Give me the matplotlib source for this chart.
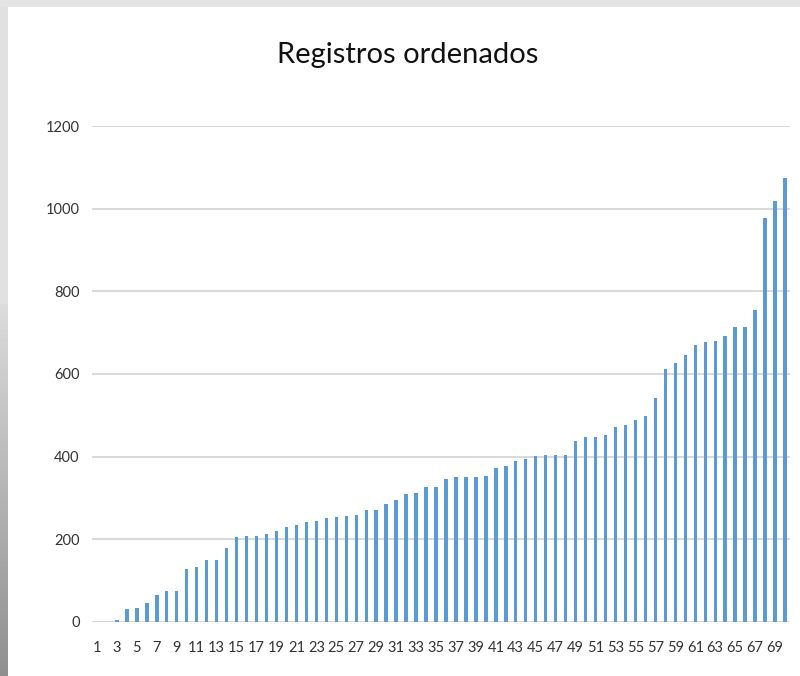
import numpy as np
import matplotlib.pyplot as plt
from matplotlib.patches import Rectangle

# datos (registros ordenados, 70 barras)
registros = list(range(1, 71))
valores = [0, 0, 6, 32, 35, 47, 66, 74, 74, 127,
           133, 151, 151, 180, 206, 209, 209, 213, 219, 230,
           235, 242, 245, 251, 254, 256, 259, 272, 272, 285,
           296, 310, 312, 326, 326, 347, 350, 350, 350, 354,
           373, 378, 390, 394, 401, 403, 403, 403, 439, 447,
           448, 453, 472, 477, 489, 498, 541, 613, 626, 647,
           670, 678, 680, 693, 713, 713, 755, 977, 1019, 1075]
etiquetas_x = [str(n) for n in registros if n % 2 == 1]
ticks_y = [0, 200, 400, 600, 800, 1000, 1200]

plt.rcParams['font.family'] = ['Lato', 'DejaVu Sans']

fig = plt.figure(figsize=(8, 6.76), dpi=100)
fig.patch.set_facecolor('white')

# marco gris de la captura
fig.patches.append(Rectangle((0, 0.989), 1, 0.011, transform=fig.transFigure,
                             facecolor='#e4e4e4', edgecolor='none', zorder=0))
borde = fig.add_axes([0, 0, 0.009, 0.989])
grad = np.concatenate([np.full(300, 0.88), np.linspace(0.86, 0.56, 376)])
borde.imshow(grad.reshape(-1, 1), aspect='auto', cmap='gray', vmin=0, vmax=1,
             interpolation='bilinear')
borde.axis('off')

ax = fig.add_axes([0.115, 0.0799, 0.8725, 0.7337])
ax.bar(registros, valores, width=0.34, color='#5B9BD5', zorder=3)

ax.set_xlim(0.5, 70.5)
ax.set_ylim(0, 1200)
ax.set_yticks(ticks_y)
ax.set_xticks([n for n in registros if n % 2 == 1])
ax.set_xticklabels(etiquetas_x)
ax.grid(axis='y', color='#d9d9d9', linewidth=1.4, zorder=0)
ax.set_axisbelow(True)
for s in ax.spines.values():
    s.set_visible(False)
ax.tick_params(axis='both', length=0, labelsize=10.5, colors='#333333')
ax.tick_params(axis='y', pad=9)
ax.tick_params(axis='x', pad=14)

fig.text(0.51, 1 - 63 / 676, 'Registros ordenados', ha='center', va='baseline',
         fontsize=21, color='#111111')

plt.savefig('out.png', dpi=100)
